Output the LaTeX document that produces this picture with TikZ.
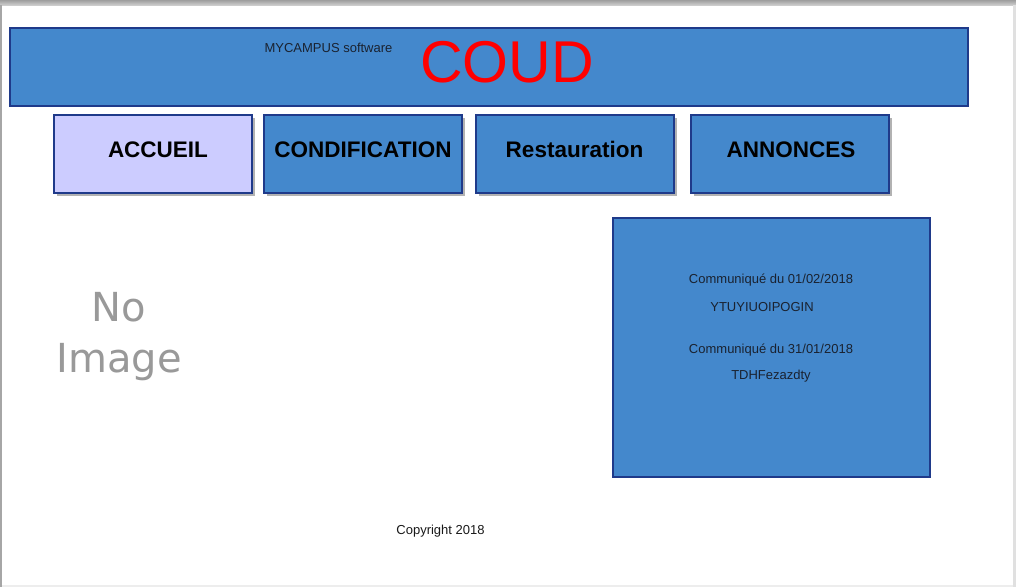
\documentclass[tikz,border=0pt]{standalone}
\usepackage{fontspec}
\setmainfont{Liberation Sans}
\newfontfamily\djv{DejaVu Sans}
\usetikzlibrary{shadows}
\definecolor{boxblue}{HTML}{4488CC}
\definecolor{boxedge}{HTML}{1F3A8A}
\definecolor{lilac}{HTML}{CCCCFF}
\definecolor{inktext}{HTML}{1A2230}
\definecolor{noimg}{HTML}{999999}
\tikzset{
  bluebox/.style={draw=boxedge, line width=2pt, fill=boxblue, rectangle, inner sep=0pt},
  menubtn/.style={bluebox, minimum width=198pt, minimum height=78pt,
    drop shadow={shadow xshift=2.5pt, shadow yshift=-2.5pt, fill=black, opacity=0.3}},
  menutxt/.style={font=\fontsize{22.5}{26}\selectfont\bfseries, text=black, inner sep=0pt},
  smalltxt/.style={font=\fontsize{13}{15}\selectfont, text=inktext, inner sep=0pt},
}
\begin{document}
\begin{tikzpicture}[x=1pt,y=-1pt]
\useasboundingbox (0,0) rectangle (1016,587);
% page frame
\fill[white] (0,0) rectangle (1016,587);
\shade[top color=black!38, bottom color=black!20] (0,0) rectangle (1016,5);
\fill[black!35] (0,5) rectangle (1.5,587);
\fill[black!12] (1012.5,5) rectangle (1016,587);
\fill[black!7] (1.5,585) rectangle (1012.5,587);
% header
\node[bluebox, minimum width=958pt, minimum height=78pt] (header) at (489,67) {};
\node[smalltxt] (mycampus) at (328.5,48) {MYCAMPUS software};
\node[font=\fontsize{59}{62}\selectfont, text=red, inner sep=0pt] (coud) at (507,62) {\vphantom{C}COUD};
% menu
\node[menubtn, fill=lilac] (accueil) at (153,154) {};
\node[menutxt] (accueilt) at (158,149.5) {ACCUEIL};
\node[menubtn] (condif) at (363,154) {};
\node[menutxt] (condift) at (363,149.5) {CONDIFICATION};
\node[menubtn] (resto) at (575,154) {};
\node[menutxt] (restot) at (574.5,149.5) {Restauration};
\node[menubtn] (annonces) at (790,154) {};
\node[menutxt] (annoncest) at (791,149.5) {ANNONCES};
% no image
\node[font=\djv\fontsize{40}{51}\selectfont, text=noimg, align=center, inner sep=0pt] (noimage) at (119,337) {No\\Image};
% announcements
\node[bluebox, minimum width=317pt, minimum height=259pt] (annbox) at (771.5,347.5) {};
\node[smalltxt] (c1) at (771,280) {Communiqué du 01/02/2018};
\node[smalltxt] (m1) at (762,307) {YTUYIUOIPOGIN};
\node[smalltxt] (c2) at (771,350) {Communiqué du 31/01/2018};
\node[smalltxt] (m2) at (771,376) {\vphantom{T}TDHFezazdty};
% footer
\node[font=\fontsize{13}{15}\selectfont, text=black!90, inner sep=0pt] (copy) at (440.5,531) {Copyright 2018};
\end{tikzpicture}
\end{document}
